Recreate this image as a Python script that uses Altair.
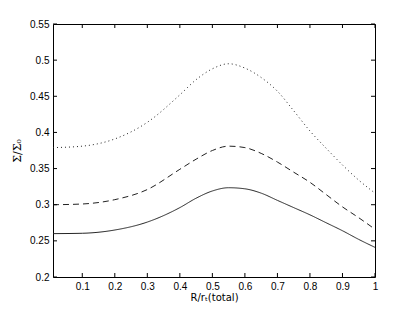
import altair as alt
import pandas as pd

# Data
x_vals = [0.01, 0.1, 0.2, 0.3, 0.4, 0.45, 0.5, 0.55, 0.6, 0.65, 0.7, 0.75, 0.8, 0.85, 0.9, 0.95, 1.0]
solid  = [0.260, 0.2605, 0.265, 0.276, 0.296, 0.309, 0.319, 0.3235, 0.322, 0.316, 0.306, 0.296, 0.286, 0.275, 0.264, 0.252, 0.241]
dashed = [0.300, 0.301, 0.307, 0.321, 0.349, 0.363, 0.375, 0.381, 0.379, 0.371, 0.359, 0.345, 0.331, 0.314, 0.297, 0.282, 0.266]
dotted = [0.379, 0.381, 0.391, 0.414, 0.452, 0.473, 0.488, 0.495, 0.489, 0.476, 0.457, 0.430, 0.402, 0.378, 0.355, 0.334, 0.316]

x_ticks = [0.1, 0.2, 0.3, 0.4, 0.5, 0.6, 0.7, 0.8, 0.9, 1.0]
y_ticks = [0.2, 0.25, 0.3, 0.35, 0.4, 0.45, 0.5, 0.55]

W, H = 322, 253
TL = 4

rows = []
for name, ys in [("solid", solid), ("dashed", dashed), ("dotted", dotted)]:
    for xv, yv in zip(x_vals, ys):
        rows.append({"x": xv, "y": yv, "s": name})
df = pd.DataFrame(rows)

xs = alt.Scale(domain=[0.01, 1.0], nice=False, zero=False)
ys_ = alt.Scale(domain=[0.2, 0.55], nice=False, zero=False)

font = "Liberation Sans"

xaxis = alt.Axis(values=x_ticks, format="~g", ticks=False, domain=False, grid=False,
                 labelPadding=4, labelOverlap=False, labelFlush=False, labelBound=False,
                 title="R/rₜ(total)", titlePadding=1,
                 labelFontSize=10, titleFontSize=10, titleFontWeight="normal",
                 labelColor="black", titleColor="black", labelFont=font, titleFont="DejaVu Sans")
yaxis = alt.Axis(values=y_ticks, format="~g", ticks=False, domain=False, grid=False,
                 labelPadding=4, labelOverlap=False, labelFlush=False, labelBound=False,
                 title="Σ/Σ₀", titlePadding=7,
                 labelFontSize=10, titleFontSize=11, titleFontWeight="normal",
                 labelColor="black", titleColor="black", labelFont=font, titleFont="DejaVu Serif")

def line(name, dash):
    return alt.Chart(df[df.s == name]).mark_line(
        color="#222222", strokeWidth=1, strokeDash=dash, interpolate="monotone"
    ).encode(x=alt.X("x:Q", scale=xs, axis=xaxis, title="R/rₜ(total)"),
             y=alt.Y("y:Q", scale=ys_, axis=yaxis, title="Σ/Σ₀"))

l1 = line("solid", [1, 0])
l2 = line("dashed", [6, 4])
l3 = line("dotted", [1, 3])

xt = pd.DataFrame({"x": x_ticks})
yt = pd.DataFrame({"y": y_ticks})

tb = alt.Chart(xt).mark_rule(color="black", strokeWidth=1).encode(
    x=alt.X("x:Q", scale=xs, axis=xaxis, title="R/rₜ(total)"), y=alt.value(H), y2=alt.value(H - TL))
tt = alt.Chart(xt).mark_rule(color="black", strokeWidth=1).encode(
    x=alt.X("x:Q", scale=xs, axis=xaxis, title="R/rₜ(total)"), y=alt.value(0), y2=alt.value(TL))
tl = alt.Chart(yt).mark_rule(color="black", strokeWidth=1).encode(
    y=alt.Y("y:Q", scale=ys_, axis=yaxis, title="Σ/Σ₀"), x=alt.value(0), x2=alt.value(TL))
tr = alt.Chart(yt).mark_rule(color="black", strokeWidth=1).encode(
    y=alt.Y("y:Q", scale=ys_, axis=yaxis, title="Σ/Σ₀"), x=alt.value(W), x2=alt.value(W - TL))

chart = alt.layer(l1, l2, l3, tb, tt, tl, tr).properties(
    width=W, height=H,
    autosize=alt.AutoSizeParams(type="none"),
    padding={"left": 45, "top": 16, "right": 30, "bottom": 27},
    background="white",
).configure_view(stroke="black", strokeWidth=1)

chart.save("out.html", embed_options={"renderer": "svg", "actions": False})
